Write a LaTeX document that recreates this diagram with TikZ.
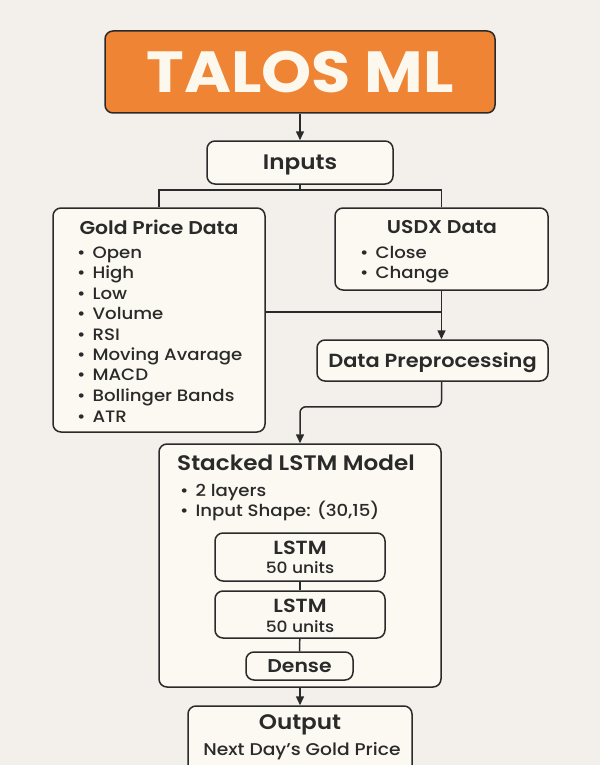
\documentclass[tikz,border=0pt]{standalone}
\usepackage{fontspec}
\setmainfont{Poppins}[FakeStretch=1.1, UprightFont={Poppins Medium}, BoldFont={Poppins SemiBold}]
\newfontfamily\heavy{Poppins}[FakeStretch=1.1, BoldFont={Poppins Bold}]
\usetikzlibrary{arrows.meta}
\definecolor{bg}{HTML}{F3F0EB}
\definecolor{orng}{HTML}{EE8434}
\definecolor{cream}{HTML}{FCF9F2}
\definecolor{ink}{HTML}{2A2A2A}
\definecolor{titletxt}{HTML}{FDF8EE}
\newcommand{\bul}{•\hspace{7pt}}
\begin{document}
\begin{tikzpicture}[x=1pt,y=-1pt,
  box/.style={draw=ink, line width=1.5pt, rounded corners=8pt, fill=cream, inner sep=0pt, text=ink},
  conn/.style={draw=ink, line width=1.5pt},
  arr/.style={conn, -{Triangle[length=9pt,width=8pt]}},
  hdr/.style={font=\fontsize{18.5}{20}\selectfont\bfseries, text=ink, inner sep=0pt},
  item/.style={font=\fontsize{16.5}{18}\selectfont, text=ink, inner sep=0pt, anchor=base west},
  sub/.style={font=\fontsize{15.5}{18}\selectfont, text=ink, inner sep=0pt}
]
\useasboundingbox (0,0) rectangle (600,765);
\clip (0,0) rectangle (600,765);
\fill[bg] (0,0) rectangle (600,765);

% title
\node[box, fill=orng, minimum width=390pt, minimum height=82pt, text=titletxt,
      font=\fontsize{58}{60}\selectfont\heavy\bfseries] (talos) at (300,72) {TALOS ML};

% inputs
\node[box, minimum width=186pt, minimum height=43pt, text depth=0pt, font=\fontsize{21}{24}\selectfont\bfseries] (inputs) at (300,162.5) {Inputs};

% gold price data
\node[box, minimum width=212pt, minimum height=224pt] (gold) at (159,320) {};
\node[hdr] (goldt) at (159,227) {Gold Price Data};
\node[item] (g1) at (77,258.5) {\bul Open};
\node[item] (g2) at (77,278.5) {\bul High};
\node[item] (g3) at (77,299) {\bul Low};
\node[item] (g4) at (77,319.5) {\bul Volume};
\node[item] (g5) at (77,340) {\bul RSI};
\node[item] (g6) at (77,360.5) {\bul Moving Avarage};
\node[item] (g7) at (77,380.5) {\bul MACD};
\node[item] (g8) at (77,401) {\bul Bollinger Bands};
\node[item] (g9) at (77,422) {\bul ATR};

% usdx
\node[box, minimum width=213pt, minimum height=82pt] (usdx) at (441.5,249) {};
\node[hdr] (usdxt) at (442,227) {USDX Data};
\node[item] (u1) at (360,258.5) {\bul Close};
\node[item] (u2) at (360,278.5) {\bul Change};

% preprocessing
\node[box, minimum width=231pt, minimum height=41pt, text depth=0pt, font=\fontsize{19}{20}\selectfont\bfseries] (prep) at (432.5,360.5) {Data Preprocessing};

% stacked LSTM
\node[box, minimum width=282pt, minimum height=243pt] (stack) at (300,565.5) {};
\node[hdr, font=\fontsize{21}{22}\selectfont\bfseries] (stackt) at (296,463) {Stacked LSTM Model};
\node[item] (s1) at (180,496.5) {\bul 2 layers};
\node[item] (s2) at (180,516.5) {\bul Input Shape: (30,15)};

\node[box, minimum width=170pt, minimum height=48pt] (lstm1) at (300,557) {};
\node[hdr, font=\fontsize{19}{20}\selectfont\bfseries] (l1t) at (300,548) {LSTM};
\node[sub] (l1s) at (300,568) {50 units};

\node[box, minimum width=170pt, minimum height=47pt] (lstm2) at (300,614.5) {};
\node[hdr, font=\fontsize{19}{20}\selectfont\bfseries] (l2t) at (300,606) {LSTM};
\node[sub] (l2s) at (300,627) {50 units};

\node[box, minimum width=107pt, minimum height=28pt, font=\fontsize{18.5}{20}\selectfont\bfseries] (dense) at (299.5,666) {Dense};

% output
\node[box, minimum width=224pt, minimum height=80pt] (output) at (300,746) {};
\node[hdr, font=\fontsize{21}{24}\selectfont\bfseries] (outt) at (300,725) {Output};
\node[sub, font=\fontsize{17}{20}\selectfont] (outs) at (302,751) {Next Day’s Gold Price};

% connectors
\draw[arr] (talos) -- (inputs);
\coordinate (split) at (300,190);
\draw[conn] (inputs.south) -- (split);
\draw[conn] (gold.north) |- (split) -| (usdx.north);
\coordinate (merge) at (usdx.south |- 0,312);
\draw[conn] (gold.east |- merge) -- (merge);
\draw[arr] (usdx.south) -- (usdx.south |- prep.north);
\draw[arr, rounded corners=6pt] (prep.south -| usdx.south) -- ++(0,25) -| (stack.north);
\draw[conn] (lstm1) -- (lstm2);
\draw[conn] (lstm2) -- (dense);
\draw[arr] (stack) -- (output);
\end{tikzpicture}
\end{document}
